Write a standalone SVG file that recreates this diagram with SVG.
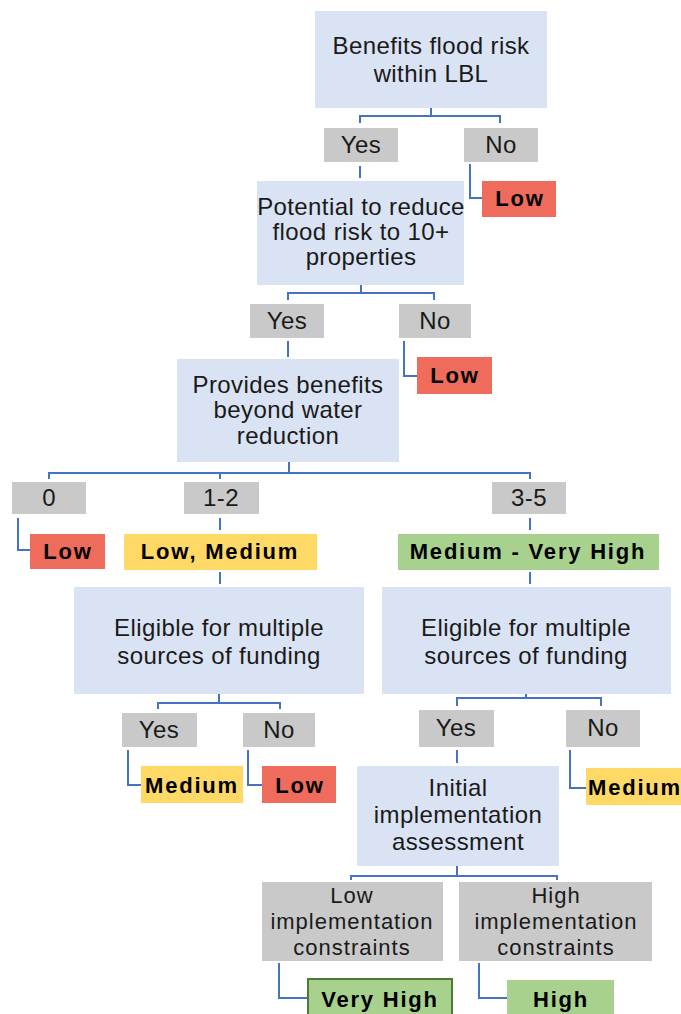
<svg xmlns="http://www.w3.org/2000/svg" width="681" height="1014" viewBox="0 0 681 1014">
  <style>
    .q { fill: #dae3f3; }
    .opt { fill: #c9c9c9; }
    .red { fill: #ef6b5b; }
    .yel { fill: #ffd966; }
    .grn { fill: #a9d18e; }
    .t { font-family: "Liberation Sans", Arial, sans-serif; font-size: 24px; fill: #1a1a1a; text-anchor: middle; letter-spacing: 0.4px; }
    .s { font-size: 22px; letter-spacing: 1px; }
    .b { font-family: "Liberation Sans", Arial, sans-serif; font-size: 22px; font-weight: bold; fill: #000; text-anchor: middle; letter-spacing: 1.8px; }
    .ln { fill: none; stroke: #4472c4; stroke-width: 2; }
  </style>
  <rect width="681" height="1014" fill="#ffffff"/>

  <!-- connectors -->
  <g id="connectors" class="ln">
    <path d="M431,108 V116 M360,123 V116 H500 V123"/>
    <path d="M360,166 V178"/>
    <path d="M470,164 V198 H482"/>
    <path d="M361,285 V293 M288,300 V293 H434 V300"/>
    <path d="M288,341 V357"/>
    <path d="M404,341 V376 H417"/>
    <path d="M289,462 V473 M49,479 V473 H530 V479 M220,473 V479"/>
    <path d="M18,518 V550 H30"/>
    <path d="M220,518 V530 M220,572 V584"/>
    <path d="M530,518 V530 M530,572 V584"/>
    <path d="M219,694 V703 M158,709 V703 H280 V709"/>
    <path d="M128,750 V785 H141"/>
    <path d="M248,750 V785 H262"/>
    <path d="M526,694 V698 M457,706 V698 H601 V706"/>
    <path d="M457,750 V763"/>
    <path d="M570,750 V788 H586"/>
    <path d="M457,866 V876 M351,880 V876 H557 V880"/>
    <path d="M279,963 V998 H307"/>
    <path d="M479,963 V998 H507"/>
  </g>

  <!-- level 1 -->
  <g id="q-flood-risk">
    <rect class="q" x="315" y="11" width="232" height="97"/>
    <text class="t" x="431" y="54">Benefits flood risk</text>
    <text class="t" x="431" y="82">within LBL</text>
  </g>
  <g id="opt-yes-1"><rect class="opt" x="324" y="128" width="74" height="34"/><text class="t" x="361" y="153">Yes</text></g>
  <g id="opt-no-1"><rect class="opt" x="464" y="128" width="74" height="34"/><text class="t" x="501" y="153">No</text></g>
  <g id="res-low-1"><rect class="red" x="482" y="181" width="74" height="36"/><text class="b" x="520" y="206">Low</text></g>

  <!-- level 2 -->
  <g id="q-properties">
    <rect class="q" x="257" y="181" width="207" height="104"/>
    <text class="t" x="361" y="215">Potential to reduce</text>
    <text class="t" x="361" y="240">flood risk to 10+</text>
    <text class="t" x="361" y="265">properties</text>
  </g>
  <g id="opt-yes-2"><rect class="opt" x="250" y="304" width="74" height="34"/><text class="t" x="287" y="329">Yes</text></g>
  <g id="opt-no-2"><rect class="opt" x="399" y="304" width="72" height="34"/><text class="t" x="435" y="329">No</text></g>
  <g id="res-low-2"><rect class="red" x="417" y="357" width="75" height="37"/><text class="b" x="455" y="383">Low</text></g>

  <!-- level 3 -->
  <g id="q-benefits">
    <rect class="q" x="177" y="359" width="222" height="103"/>
    <text class="t" x="288" y="393">Provides benefits</text>
    <text class="t" x="288" y="418">beyond water</text>
    <text class="t" x="288" y="444">reduction</text>
  </g>
  <g id="opt-0"><rect class="opt" x="12" y="482" width="74" height="32"/><text class="t" x="49" y="506">0</text></g>
  <g id="opt-1-2"><rect class="opt" x="184" y="482" width="75" height="32"/><text class="t" x="221" y="506">1-2</text></g>
  <g id="opt-3-5"><rect class="opt" x="492" y="482" width="74" height="32"/><text class="t" x="529" y="506">3-5</text></g>
  <g id="res-low-3"><rect class="red" x="30" y="534" width="75" height="35"/><text class="b" x="68" y="559">Low</text></g>
  <g id="res-low-medium"><rect class="yel" x="124" y="534" width="193" height="36"/><text class="b" x="220" y="559">Low, Medium</text></g>
  <g id="res-medium-veryhigh"><rect class="grn" x="398" y="534" width="261" height="36"/><text class="b" x="528" y="559">Medium - Very High</text></g>

  <!-- funding, left branch -->
  <g id="q-funding-left">
    <rect class="q" x="74" y="587" width="290" height="107"/>
    <text class="t" x="219" y="636">Eligible for multiple</text>
    <text class="t" x="219" y="664">sources of funding</text>
  </g>
  <g id="opt-yes-3"><rect class="opt" x="122" y="713" width="75" height="34"/><text class="t" x="159" y="738">Yes</text></g>
  <g id="opt-no-3"><rect class="opt" x="243" y="713" width="72" height="34"/><text class="t" x="279" y="738">No</text></g>
  <g id="res-medium-1"><rect class="yel" x="141" y="766" width="102" height="37"/><text class="b" x="192" y="793">Medium</text></g>
  <g id="res-low-4"><rect class="red" x="262" y="766" width="74" height="37"/><text class="b" x="300" y="793">Low</text></g>

  <!-- funding, right branch -->
  <g id="q-funding-right">
    <rect class="q" x="382" y="587" width="289" height="107"/>
    <text class="t" x="526" y="636">Eligible for multiple</text>
    <text class="t" x="526" y="664">sources of funding</text>
  </g>
  <g id="opt-yes-4"><rect class="opt" x="419" y="710" width="75" height="37"/><text class="t" x="456" y="736">Yes</text></g>
  <g id="opt-no-4"><rect class="opt" x="566" y="710" width="74" height="37"/><text class="t" x="603" y="736">No</text></g>
  <g id="res-medium-2"><rect class="yel" x="586" y="768" width="110" height="37"/><text class="b" x="588" y="795" style="text-anchor:start">Medium</text></g>

  <!-- implementation -->
  <g id="q-implementation">
    <rect class="q" x="357" y="766" width="202" height="100"/>
    <text class="t" x="458" y="796">Initial</text>
    <text class="t" x="458" y="823">implementation</text>
    <text class="t" x="458" y="850">assessment</text>
  </g>
  <g id="opt-low-constraints">
    <rect class="opt" x="262" y="882" width="181" height="79"/>
    <text class="t s" x="352" y="903">Low</text>
    <text class="t s" x="352" y="929">implementation</text>
    <text class="t s" x="352" y="955">constraints</text>
  </g>
  <g id="opt-high-constraints">
    <rect class="opt" x="459" y="882" width="193" height="79"/>
    <text class="t s" x="556" y="903">High</text>
    <text class="t s" x="556" y="929">implementation</text>
    <text class="t s" x="556" y="955">constraints</text>
  </g>
  <g id="res-very-high"><rect class="grn" x="308" y="979" width="144" height="45" stroke="#4f7a32" stroke-width="2"/><text class="b" x="380" y="1007">Very High</text></g>
  <g id="res-high"><rect class="grn" x="507" y="980" width="107" height="40"/><text class="b" x="561" y="1007">High</text></g>
</svg>
